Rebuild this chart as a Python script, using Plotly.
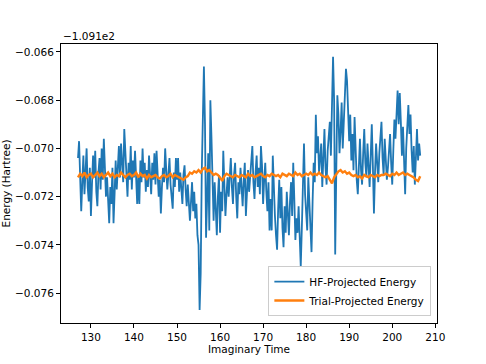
import plotly.graph_objects as go

# Energies are given relative to the offset -109.1 Hartree, in units of 1e-3 Hartree
OFFSET_LABEL = "\u22121.091e2"
T0_HF, DT_HF = 127.0, 0.25
hf_mE = [
    -70.4, -69.7, -71.2, -72.6,
    -71.4, -70.3, -71.9, -70.9,
    -70.0, -71.6, -72.2, -70.8,
    -72.8, -71.5, -70.3, -71.2,
    -70.1, -71.8, -72.4, -71.0,
    -70.4, -71.7, -70.0, -71.3,
    -69.6, -70.8, -72.0, -71.2,
    -72.5, -73.1, -71.6, -72.3,
    -70.8, -73.1, -71.9, -70.5,
    -71.7, -70.4, -69.9, -71.2,
    -69.8, -70.6, -71.4, -69.2,
    -70.3, -71.0, -72.0, -70.6,
    -71.3, -69.9, -71.7, -70.5,
    -71.2, -70.1, -71.5, -72.3,
    -71.1, -72.3, -70.5, -71.4,
    -70.0, -71.2, -70.6, -71.8,
    -70.9, -71.6, -70.3, -71.1,
    -71.9, -70.6, -71.3, -70.2,
    -71.5, -70.1, -71.2, -72.0,
    -71.3, -72.7, -71.6, -70.8,
    -71.4, -70.0, -70.9, -71.7,
    -71.1, -70.4, -71.5, -72.2,
    -72.5, -71.0, -71.6, -70.4,
    -71.3, -70.4, -71.8, -71.0,
    -71.6, -72.3, -71.1, -70.7,
    -71.7, -72.4, -71.5, -72.1,
    -73.0, -72.2, -71.4, -72.6,
    -71.8, -72.9, -72.3, -73.6,
    -74.0, -76.7, -75.2, -71.0,
    -67.9, -66.6, -69.0, -73.7,
    -72.1, -70.2, -73.4, -68.0,
    -69.5, -72.0, -73.0, -71.4,
    -72.5, -73.6, -72.0, -71.1,
    -73.5, -71.8, -72.6, -70.1,
    -71.5, -72.8, -71.9, -71.2,
    -72.0, -71.0, -70.4, -71.6,
    -72.3, -71.1, -70.6, -72.0,
    -72.9, -71.4, -71.9, -70.8,
    -71.5, -72.4, -71.3, -70.6,
    -72.8, -71.7, -70.9, -71.8,
    -71.2, -70.5, -69.9, -71.4,
    -72.1, -71.0, -70.3, -71.6,
    -70.8, -71.9, -69.9, -70.7,
    -72.3, -71.3, -70.6, -71.8,
    -72.6, -71.4, -73.4, -72.1,
    -73.4, -70.3, -71.9, -72.8,
    -73.6, -74.2, -72.5, -71.3,
    -72.9, -71.6, -73.3, -74.1,
    -72.4, -73.5, -71.8, -72.7,
    -73.6, -72.2, -71.4, -72.8,
    -70.6, -72.1, -73.8, -72.9,
    -73.5, -72.4, -74.1, -74.9,
    -73.3, -71.6, -69.8, -71.9,
    -72.6, -73.4, -71.2, -72.5,
    -73.0, -74.3, -72.2, -70.6,
    -71.4, -68.6, -70.2, -69.5,
    -71.0, -70.4, -69.8, -71.6,
    -70.3, -69.2, -70.8, -71.5,
    -70.1, -69.4, -68.9, -70.3,
    -68.5, -66.2, -68.0, -74.4,
    -71.0, -67.8, -68.6, -70.2,
    -69.3, -68.1, -70.0, -68.8,
    -67.5, -66.7, -67.2, -68.4,
    -69.7, -68.6, -70.5, -69.4,
    -70.9, -68.7, -70.2, -71.3,
    -71.9, -70.4, -69.6, -70.9,
    -71.5, -70.2, -69.2, -70.6,
    -71.2, -69.8, -70.9, -71.6,
    -70.3, -69.0, -70.7, -72.7,
    -71.0, -69.8, -70.6, -71.4,
    -70.2, -69.5, -68.9, -70.4,
    -71.1, -69.6, -70.5, -71.3,
    -70.8, -69.9, -69.4, -70.6,
    -71.5, -70.1, -68.8, -69.6,
    -68.4, -67.6, -69.0, -67.7,
    -68.9, -70.3, -69.1, -71.2,
    -71.9, -70.0, -69.3, -68.2,
    -69.4, -68.6, -70.1, -71.0,
    -69.9, -71.5, -70.4, -69.2,
    -70.5, -69.8, -70.3,
]

T0_TR, DT_TR = 127.0, 0.5
trial_mE = [
    -71.2, -71.05, -71.15, -71.0, -71.2, -71.1, -71.05, -71.2, -71.1, -71.0,
    -71.15, -71.05, -71.2, -71.1, -71.0, -71.15, -71.05, -71.2, -71.1, -71.15,
    -71.0, -71.1, -71.2, -71.1, -71.05, -71.15, -71.1, -71.0, -71.2, -71.05,
    -71.15, -71.1, -71.25, -71.1, -71.2, -71.15, -71.1, -71.2, -71.25, -71.15,
    -71.1, -71.2, -71.15, -71.05, -71.2, -71.1, -71.15, -71.2, -71.25, -71.3,
    -71.2, -71.15, -71.0, -71.05, -70.95, -71.0, -70.9, -71.0, -70.85, -70.8,
    -70.95, -70.9, -71.0, -71.1, -71.05, -71.1, -71.2, -71.35, -71.15, -71.05,
    -71.1, -71.15, -71.2, -71.1, -71.15, -71.2, -71.1, -71.15, -71.2, -71.05,
    -71.15, -71.1, -71.2, -71.15, -71.1, -71.05, -71.15, -71.2, -71.1, -71.15,
    -71.05, -71.1, -71.15, -71.1, -71.2, -71.05, -71.1, -71.15, -71.05, -71.1,
    -71.15, -71.0, -71.1, -71.05, -71.15, -71.1, -71.05, -71.1, -71.0, -71.1,
    -71.05, -71.1, -71.0, -71.1, -71.15, -71.2, -71.15, -71.3, -71.45, -71.2,
    -71.05, -70.95, -70.9, -71.0, -70.95, -71.05, -71.0, -71.1, -71.15, -71.1,
    -71.2, -71.15, -71.25, -71.1, -71.15, -71.2, -71.1, -71.15, -71.2, -71.1,
    -71.15, -71.1, -71.1, -71.05, -71.1, -71.15, -71.05, -71.1, -71.0, -71.1,
    -71.05, -71.0, -71.1, -71.05, -71.1, -71.15, -71.2, -71.3, -71.35, -71.15,
]

x_ticks = [130, 140, 150, 160, 170, 180, 190, 200, 210]
y_ticks = [-0.066, -0.068, -0.070, -0.072, -0.074, -0.076]

t_hf = [T0_HF + DT_HF * i for i in range(len(hf_mE))]
t_tr = [T0_TR + DT_TR * i for i in range(len(trial_mE))]
hf = [v / 1000 for v in hf_mE]
tr = [v / 1000 for v in trial_mE]

FONT = "DejaVu Sans"
fig = go.Figure()
fig.add_trace(go.Scatter(x=t_hf, y=hf, mode="lines", name="HF-Projected Energy",
                         line=dict(color="#1f77b4", width=1.8)))
fig.add_trace(go.Scatter(x=t_tr, y=tr, mode="lines", name="Trial-Projected Energy",
                         line=dict(color="#ff7f0e", width=2.4)))

axis_common = dict(showline=True, linecolor="black", linewidth=1, mirror=True,
                   ticks="outside", ticklen=4, tickwidth=1, tickcolor="black",
                   showgrid=False, zeroline=False, automargin=False,
                   tickfont=dict(family=FONT, size=10.5, color="black"))
fig.update_xaxes(range=[123.05, 210.4], tickvals=x_ticks,
                 ticktext=[str(v) for v in x_ticks],
                 title=dict(text="Imaginary Time", standoff=4,
                            font=dict(family=FONT, size=10.5, color="black")),
                 **axis_common)
fig.update_yaxes(range=[-0.07724, -0.06567], tickvals=y_ticks,
                 ticktext=[("\u2212%.3f" % abs(v)) for v in y_ticks],
                 **axis_common)
fig.add_annotation(text="Energy (Hartree)", xref="paper", yref="paper", x=0, y=0.5,
                   xanchor="center", yanchor="middle", textangle=-90, xshift=-56,
                   yshift=0, showarrow=False,
                   font=dict(family=FONT, size=10.5, color="black"))
fig.add_annotation(text=OFFSET_LABEL, xref="paper", yref="paper", x=0, y=1,
                   xanchor="left", yanchor="bottom", showarrow=False, yshift=0,
                   font=dict(family=FONT, size=10.5, color="black"))
fig.update_layout(width=486, height=364, margin=dict(l=61, r=49, t=44, b=41),
                  paper_bgcolor="white", plot_bgcolor="white",
                  font=dict(family=FONT, size=10.5, color="black"),
                  legend=dict(x=0.985, y=0.025, xanchor="right", yanchor="bottom",
                              bgcolor="rgba(255,255,255,0.85)", bordercolor="#cccccc",
                              borderwidth=1, font=dict(family=FONT, size=10.5),
                              tracegroupgap=0, itemwidth=30))
fig.write_html("out.html", config={"displayModeBar": False},
               post_script="document.body.style.margin='0';document.body.style.overflow='hidden';")
